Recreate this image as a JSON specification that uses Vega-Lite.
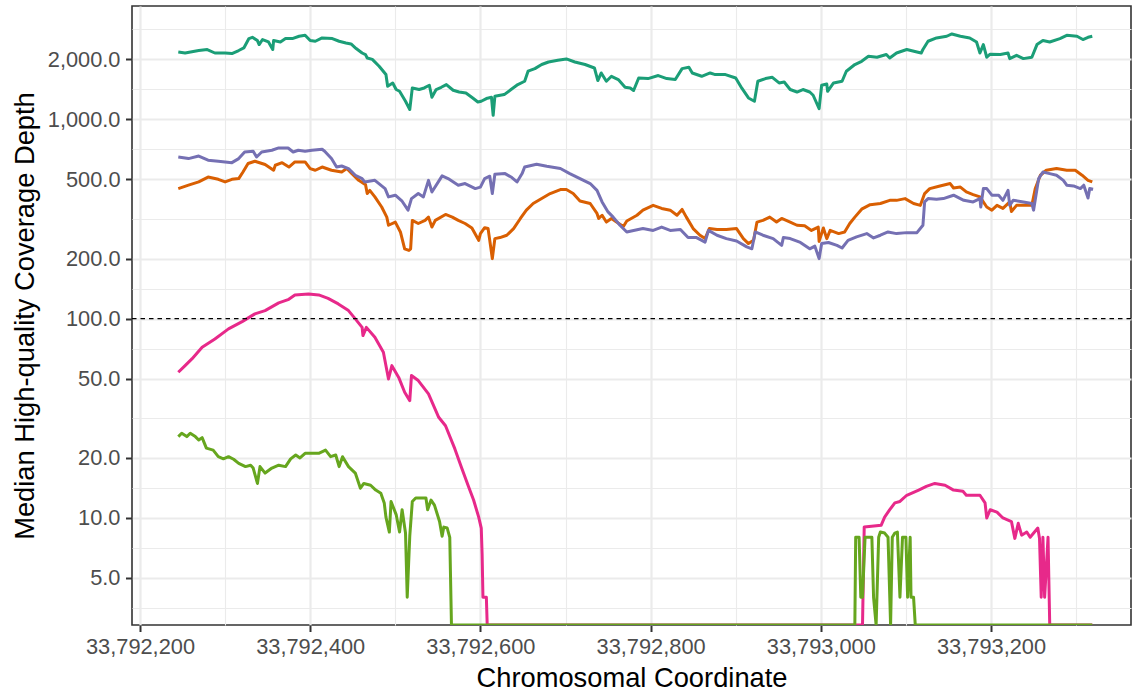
{
"$schema": "https://vega.github.io/schema/vega-lite/v6.json",
"width": 999, "height": 619,
"autosize": {"type": "none"},
"padding": {"left": 132, "top": 6, "right": 1, "bottom": 67},
"background": "white",
"config": {
  "view": {"stroke": "#333333", "strokeWidth": 1.6},
  "font": "Liberation Sans",
  "axis": {"domain": false, "labelFont": "Liberation Sans", "titleFont": "Liberation Sans", "labelColor": "#4d4d4d", "labelFontSize": 21.8, "titleFontSize": 27.3, "titleFontWeight": "normal", "titleColor": "#000000", "tickColor": "#333333", "tickWidth": 2, "tickSize": 6.5, "gridColor": "#ebebeb", "labelOverlap": false, "labelFlush": false}
},
"layer": [
{
"data": {"values": [
{"s":"S1","pos":33792245,"depth":2176},{"s":"S1","pos":33792253,"depth":2150},{"s":"S1","pos":33792269,"depth":2212},{"s":"S1","pos":33792279,"depth":2238},{"s":"S1","pos":33792288,"depth":2150},{"s":"S1","pos":33792300,"depth":2150},{"s":"S1","pos":33792308,"depth":2136},{"s":"S1","pos":33792316,"depth":2212},{"s":"S1","pos":33792322,"depth":2280},{"s":"S1","pos":33792328,"depth":2540},{"s":"S1","pos":33792332,"depth":2578},{"s":"S1","pos":33792338,"depth":2482},{"s":"S1","pos":33792340,"depth":2370},{"s":"S1","pos":33792344,"depth":2512},{"s":"S1","pos":33792351,"depth":2442},{"s":"S1","pos":33792356,"depth":2238},{"s":"S1","pos":33792357,"depth":2482},{"s":"S1","pos":33792365,"depth":2442},{"s":"S1","pos":33792371,"depth":2540},{"s":"S1","pos":33792379,"depth":2540},{"s":"S1","pos":33792387,"depth":2609},{"s":"S1","pos":33792394,"depth":2638},{"s":"S1","pos":33792400,"depth":2482},{"s":"S1","pos":33792406,"depth":2462},{"s":"S1","pos":33792414,"depth":2558},{"s":"S1","pos":33792426,"depth":2540},{"s":"S1","pos":33792434,"depth":2462},{"s":"S1","pos":33792442,"depth":2414},{"s":"S1","pos":33792448,"depth":2386},{"s":"S1","pos":33792454,"depth":2264},{"s":"S1","pos":33792461,"depth":2150},{"s":"S1","pos":33792465,"depth":2112},{"s":"S1","pos":33792467,"depth":2030},{"s":"S1","pos":33792473,"depth":1997},{"s":"S1","pos":33792481,"depth":1845},{"s":"S1","pos":33792489,"depth":1676},{"s":"S1","pos":33792491,"depth":1464},{"s":"S1","pos":33792497,"depth":1521},{"s":"S1","pos":33792501,"depth":1410},{"s":"S1","pos":33792505,"depth":1382},{"s":"S1","pos":33792512,"depth":1231},{"s":"S1","pos":33792517,"depth":1119},{"s":"S1","pos":33792520,"depth":1436},{"s":"S1","pos":33792528,"depth":1410},{"s":"S1","pos":33792534,"depth":1436},{"s":"S1","pos":33792540,"depth":1481},{"s":"S1","pos":33792543,"depth":1289},{"s":"S1","pos":33792548,"depth":1410},{"s":"S1","pos":33792554,"depth":1447},{"s":"S1","pos":33792560,"depth":1493},{"s":"S1","pos":33792568,"depth":1398},{"s":"S1","pos":33792575,"depth":1370},{"s":"S1","pos":33792583,"depth":1355},{"s":"S1","pos":33792591,"depth":1279},{"s":"S1","pos":33792597,"depth":1221},{"s":"S1","pos":33792601,"depth":1231},{"s":"S1","pos":33792607,"depth":1270},{"s":"S1","pos":33792613,"depth":1289},{"s":"S1","pos":33792615,"depth":1047},{"s":"S1","pos":33792617,"depth":1304},{"s":"S1","pos":33792628,"depth":1330},{"s":"S1","pos":33792636,"depth":1410},{"s":"S1","pos":33792644,"depth":1493},{"s":"S1","pos":33792652,"depth":1551},{"s":"S1","pos":33792656,"depth":1742},{"s":"S1","pos":33792664,"depth":1795},{"s":"S1","pos":33792672,"depth":1882},{"s":"S1","pos":33792680,"depth":1938},{"s":"S1","pos":33792691,"depth":1978},{"s":"S1","pos":33792701,"depth":2007},{"s":"S1","pos":33792711,"depth":1938},{"s":"S1","pos":33792723,"depth":1882},{"s":"S1","pos":33792734,"depth":1808},{"s":"S1","pos":33792738,"depth":1564},{"s":"S1","pos":33792742,"depth":1707},{"s":"S1","pos":33792748,"depth":1551},{"s":"S1","pos":33792754,"depth":1643},{"s":"S1","pos":33792762,"depth":1582},{"s":"S1","pos":33792770,"depth":1447},{"s":"S1","pos":33792776,"depth":1436},{"s":"S1","pos":33792780,"depth":1394},{"s":"S1","pos":33792786,"depth":1611},{"s":"S1","pos":33792797,"depth":1600},{"s":"S1","pos":33792809,"depth":1657},{"s":"S1","pos":33792819,"depth":1600},{"s":"S1","pos":33792829,"depth":1582},{"s":"S1","pos":33792837,"depth":1795},{"s":"S1","pos":33792845,"depth":1824},{"s":"S1","pos":33792849,"depth":1707},{"s":"S1","pos":33792860,"depth":1643},{"s":"S1","pos":33792870,"depth":1707},{"s":"S1","pos":33792876,"depth":1676},{"s":"S1","pos":33792888,"depth":1676},{"s":"S1","pos":33792900,"depth":1611},{"s":"S1","pos":33792907,"depth":1436},{"s":"S1","pos":33792915,"depth":1279},{"s":"S1","pos":33792922,"depth":1231},{"s":"S1","pos":33792926,"depth":1551},{"s":"S1","pos":33792935,"depth":1600},{"s":"S1","pos":33792943,"depth":1624},{"s":"S1","pos":33792951,"depth":1521},{"s":"S1","pos":33792957,"depth":1538},{"s":"S1","pos":33792964,"depth":1410},{"s":"S1","pos":33792972,"depth":1370},{"s":"S1","pos":33792979,"depth":1410},{"s":"S1","pos":33792987,"depth":1370},{"s":"S1","pos":33792991,"depth":1320},{"s":"S1","pos":33792998,"depth":1131},{"s":"S1","pos":33793001,"depth":1481},{"s":"S1","pos":33793007,"depth":1503},{"s":"S1","pos":33793008,"depth":1382},{"s":"S1","pos":33793015,"depth":1521},{"s":"S1","pos":33793025,"depth":1551},{"s":"S1","pos":33793030,"depth":1742},{"s":"S1","pos":33793040,"depth":1882},{"s":"S1","pos":33793048,"depth":1954},{"s":"S1","pos":33793056,"depth":2070},{"s":"S1","pos":33793066,"depth":2047},{"s":"S1","pos":33793077,"depth":2112},{"s":"S1","pos":33793081,"depth":2030},{"s":"S1","pos":33793089,"depth":2150},{"s":"S1","pos":33793101,"depth":2238},{"s":"S1","pos":33793113,"depth":2176},{"s":"S1","pos":33793118,"depth":2150},{"s":"S1","pos":33793120,"depth":2238},{"s":"S1","pos":33793126,"depth":2462},{"s":"S1","pos":33793136,"depth":2558},{"s":"S1","pos":33793148,"depth":2609},{"s":"S1","pos":33793154,"depth":2679},{"s":"S1","pos":33793164,"depth":2609},{"s":"S1","pos":33793175,"depth":2558},{"s":"S1","pos":33793183,"depth":2442},{"s":"S1","pos":33793187,"depth":2150},{"s":"S1","pos":33793191,"depth":2370},{"s":"S1","pos":33793195,"depth":2047},{"s":"S1","pos":33793199,"depth":2122},{"s":"S1","pos":33793211,"depth":2112},{"s":"S1","pos":33793220,"depth":2150},{"s":"S1","pos":33793222,"depth":2015},{"s":"S1","pos":33793230,"depth":2094},{"s":"S1","pos":33793238,"depth":2015},{"s":"S1","pos":33793248,"depth":2047},{"s":"S1","pos":33793254,"depth":2370},{"s":"S1","pos":33793261,"depth":2482},{"s":"S1","pos":33793269,"depth":2442},{"s":"S1","pos":33793281,"depth":2540},{"s":"S1","pos":33793289,"depth":2638},{"s":"S1","pos":33793301,"depth":2609},{"s":"S1","pos":33793308,"depth":2512},{"s":"S1","pos":33793314,"depth":2578},{"s":"S1","pos":33793319,"depth":2609},
{"s":"S2","pos":33792245,"depth":449},{"s":"S2","pos":33792257,"depth":467},{"s":"S2","pos":33792269,"depth":485},{"s":"S2","pos":33792280,"depth":513},{"s":"S2","pos":33792292,"depth":500},{"s":"S2","pos":33792300,"depth":485},{"s":"S2","pos":33792308,"depth":500},{"s":"S2","pos":33792316,"depth":504},{"s":"S2","pos":33792321,"depth":544},{"s":"S2","pos":33792327,"depth":600},{"s":"S2","pos":33792335,"depth":616},{"s":"S2","pos":33792347,"depth":593},{"s":"S2","pos":33792357,"depth":555},{"s":"S2","pos":33792359,"depth":588},{"s":"S2","pos":33792367,"depth":606},{"s":"S2","pos":33792375,"depth":576},{"s":"S2","pos":33792382,"depth":611},{"s":"S2","pos":33792394,"depth":611},{"s":"S2","pos":33792400,"depth":566},{"s":"S2","pos":33792406,"depth":555},{"s":"S2","pos":33792414,"depth":576},{"s":"S2","pos":33792425,"depth":555},{"s":"S2","pos":33792437,"depth":544},{"s":"S2","pos":33792443,"depth":566},{"s":"S2","pos":33792449,"depth":534},{"s":"S2","pos":33792457,"depth":494},{"s":"S2","pos":33792465,"depth":470},{"s":"S2","pos":33792467,"depth":424},{"s":"S2","pos":33792470,"depth":440},{"s":"S2","pos":33792476,"depth":408},{"s":"S2","pos":33792484,"depth":363},{"s":"S2","pos":33792490,"depth":323},{"s":"S2","pos":33792492,"depth":294},{"s":"S2","pos":33792500,"depth":305},{"s":"S2","pos":33792506,"depth":272},{"s":"S2","pos":33792511,"depth":224},{"s":"S2","pos":33792516,"depth":220},{"s":"S2","pos":33792518,"depth":224},{"s":"S2","pos":33792520,"depth":311},{"s":"S2","pos":33792527,"depth":300},{"s":"S2","pos":33792535,"depth":311},{"s":"S2","pos":33792539,"depth":323},{"s":"S2","pos":33792543,"depth":288},{"s":"S2","pos":33792547,"depth":311},{"s":"S2","pos":33792559,"depth":333},{"s":"S2","pos":33792567,"depth":323},{"s":"S2","pos":33792574,"depth":311},{"s":"S2","pos":33792582,"depth":300},{"s":"S2","pos":33792590,"depth":285},{"s":"S2","pos":33792598,"depth":247},{"s":"S2","pos":33792600,"depth":267},{"s":"S2","pos":33792605,"depth":286},{"s":"S2","pos":33792609,"depth":283},{"s":"S2","pos":33792611,"depth":247},{"s":"S2","pos":33792614,"depth":200},{"s":"S2","pos":33792617,"depth":252},{"s":"S2","pos":33792623,"depth":255},{"s":"S2","pos":33792631,"depth":262},{"s":"S2","pos":33792639,"depth":283},{"s":"S2","pos":33792647,"depth":318},{"s":"S2","pos":33792654,"depth":350},{"s":"S2","pos":33792662,"depth":378},{"s":"S2","pos":33792670,"depth":396},{"s":"S2","pos":33792682,"depth":424},{"s":"S2","pos":33792694,"depth":444},{"s":"S2","pos":33792701,"depth":444},{"s":"S2","pos":33792709,"depth":424},{"s":"S2","pos":33792717,"depth":389},{"s":"S2","pos":33792729,"depth":378},{"s":"S2","pos":33792737,"depth":337},{"s":"S2","pos":33792739,"depth":318},{"s":"S2","pos":33792743,"depth":330},{"s":"S2","pos":33792748,"depth":305},{"s":"S2","pos":33792754,"depth":318},{"s":"S2","pos":33792760,"depth":305},{"s":"S2","pos":33792768,"depth":290},{"s":"S2","pos":33792772,"depth":309},{"s":"S2","pos":33792784,"depth":330},{"s":"S2","pos":33792791,"depth":350},{"s":"S2","pos":33792803,"depth":370},{"s":"S2","pos":33792813,"depth":357},{"s":"S2","pos":33792823,"depth":350},{"s":"S2","pos":33792831,"depth":330},{"s":"S2","pos":33792837,"depth":353},{"s":"S2","pos":33792842,"depth":323},{"s":"S2","pos":33792850,"depth":283},{"s":"S2","pos":33792858,"depth":262},{"s":"S2","pos":33792864,"depth":252},{"s":"S2","pos":33792869,"depth":283},{"s":"S2","pos":33792878,"depth":280},{"s":"S2","pos":33792889,"depth":280},{"s":"S2","pos":33792901,"depth":283},{"s":"S2","pos":33792909,"depth":252},{"s":"S2","pos":33792915,"depth":238},{"s":"S2","pos":33792921,"depth":247},{"s":"S2","pos":33792925,"depth":305},{"s":"S2","pos":33792932,"depth":311},{"s":"S2","pos":33792940,"depth":323},{"s":"S2","pos":33792948,"depth":305},{"s":"S2","pos":33792954,"depth":318},{"s":"S2","pos":33792964,"depth":305},{"s":"S2","pos":33792972,"depth":294},{"s":"S2","pos":33792981,"depth":292},{"s":"S2","pos":33792989,"depth":277},{"s":"S2","pos":33792997,"depth":288},{"s":"S2","pos":33792998,"depth":244},{"s":"S2","pos":33793003,"depth":285},{"s":"S2","pos":33793007,"depth":252},{"s":"S2","pos":33793011,"depth":277},{"s":"S2","pos":33793021,"depth":267},{"s":"S2","pos":33793028,"depth":272},{"s":"S2","pos":33793034,"depth":300},{"s":"S2","pos":33793040,"depth":323},{"s":"S2","pos":33793048,"depth":354},{"s":"S2","pos":33793058,"depth":373},{"s":"S2","pos":33793070,"depth":378},{"s":"S2","pos":33793081,"depth":392},{"s":"S2","pos":33793089,"depth":392},{"s":"S2","pos":33793099,"depth":400},{"s":"S2","pos":33793109,"depth":378},{"s":"S2","pos":33793117,"depth":370},{"s":"S2","pos":33793122,"depth":424},{"s":"S2","pos":33793128,"depth":449},{"s":"S2","pos":33793140,"depth":463},{"s":"S2","pos":33793152,"depth":476},{"s":"S2","pos":33793156,"depth":452},{"s":"S2","pos":33793164,"depth":457},{"s":"S2","pos":33793171,"depth":432},{"s":"S2","pos":33793179,"depth":419},{"s":"S2","pos":33793187,"depth":408},{"s":"S2","pos":33793195,"depth":363},{"s":"S2","pos":33793201,"depth":350},{"s":"S2","pos":33793207,"depth":370},{"s":"S2","pos":33793214,"depth":357},{"s":"S2","pos":33793222,"depth":385},{"s":"S2","pos":33793224,"depth":345},{"s":"S2","pos":33793230,"depth":370},{"s":"S2","pos":33793238,"depth":370},{"s":"S2","pos":33793248,"depth":370},{"s":"S2","pos":33793252,"depth":449},{"s":"S2","pos":33793258,"depth":524},{"s":"S2","pos":33793265,"depth":555},{"s":"S2","pos":33793277,"depth":566},{"s":"S2","pos":33793289,"depth":555},{"s":"S2","pos":33793299,"depth":555},{"s":"S2","pos":33793307,"depth":524},{"s":"S2","pos":33793314,"depth":494},{"s":"S2","pos":33793319,"depth":485},
{"s":"S3","pos":33792245,"depth":647},{"s":"S3","pos":33792257,"depth":635},{"s":"S3","pos":33792269,"depth":654},{"s":"S3","pos":33792280,"depth":623},{"s":"S3","pos":33792292,"depth":616},{"s":"S3","pos":33792308,"depth":606},{"s":"S3","pos":33792316,"depth":635},{"s":"S3","pos":33792323,"depth":685},{"s":"S3","pos":33792333,"depth":691},{"s":"S3","pos":33792337,"depth":647},{"s":"S3","pos":33792343,"depth":685},{"s":"S3","pos":33792355,"depth":699},{"s":"S3","pos":33792363,"depth":718},{"s":"S3","pos":33792374,"depth":718},{"s":"S3","pos":33792380,"depth":685},{"s":"S3","pos":33792386,"depth":699},{"s":"S3","pos":33792394,"depth":691},{"s":"S3","pos":33792402,"depth":699},{"s":"S3","pos":33792414,"depth":707},{"s":"S3","pos":33792417,"depth":691},{"s":"S3","pos":33792425,"depth":635},{"s":"S3","pos":33792431,"depth":576},{"s":"S3","pos":33792437,"depth":583},{"s":"S3","pos":33792445,"depth":566},{"s":"S3","pos":33792453,"depth":524},{"s":"S3","pos":33792461,"depth":504},{"s":"S3","pos":33792464,"depth":485},{"s":"S3","pos":33792476,"depth":494},{"s":"S3","pos":33792488,"depth":449},{"s":"S3","pos":33792492,"depth":408},{"s":"S3","pos":33792500,"depth":416},{"s":"S3","pos":33792508,"depth":388},{"s":"S3","pos":33792515,"depth":350},{"s":"S3","pos":33792519,"depth":400},{"s":"S3","pos":33792527,"depth":424},{"s":"S3","pos":33792533,"depth":408},{"s":"S3","pos":33792539,"depth":494},{"s":"S3","pos":33792543,"depth":432},{"s":"S3","pos":33792555,"depth":520},{"s":"S3","pos":33792562,"depth":504},{"s":"S3","pos":33792574,"depth":467},{"s":"S3","pos":33792582,"depth":476},{"s":"S3","pos":33792594,"depth":449},{"s":"S3","pos":33792600,"depth":457},{"s":"S3","pos":33792605,"depth":504},{"s":"S3","pos":33792611,"depth":518},{"s":"S3","pos":33792614,"depth":424},{"s":"S3","pos":33792617,"depth":530},{"s":"S3","pos":33792629,"depth":534},{"s":"S3","pos":33792637,"depth":510},{"s":"S3","pos":33792643,"depth":485},{"s":"S3","pos":33792649,"depth":534},{"s":"S3","pos":33792652,"depth":576},{"s":"S3","pos":33792666,"depth":595},{"s":"S3","pos":33792678,"depth":581},{"s":"S3","pos":33792694,"depth":566},{"s":"S3","pos":33792705,"depth":534},{"s":"S3","pos":33792717,"depth":504},{"s":"S3","pos":33792729,"depth":476},{"s":"S3","pos":33792737,"depth":440},{"s":"S3","pos":33792743,"depth":385},{"s":"S3","pos":33792750,"depth":343},{"s":"S3","pos":33792756,"depth":323},{"s":"S3","pos":33792764,"depth":294},{"s":"S3","pos":33792772,"depth":272},{"s":"S3","pos":33792780,"depth":277},{"s":"S3","pos":33792791,"depth":283},{"s":"S3","pos":33792803,"depth":277},{"s":"S3","pos":33792813,"depth":288},{"s":"S3","pos":33792823,"depth":277},{"s":"S3","pos":33792835,"depth":280},{"s":"S3","pos":33792844,"depth":255},{"s":"S3","pos":33792854,"depth":255},{"s":"S3","pos":33792864,"depth":242},{"s":"S3","pos":33792868,"depth":277},{"s":"S3","pos":33792878,"depth":262},{"s":"S3","pos":33792889,"depth":252},{"s":"S3","pos":33792901,"depth":245},{"s":"S3","pos":33792913,"depth":229},{"s":"S3","pos":33792919,"depth":224},{"s":"S3","pos":33792923,"depth":272},{"s":"S3","pos":33792932,"depth":262},{"s":"S3","pos":33792944,"depth":252},{"s":"S3","pos":33792954,"depth":233},{"s":"S3","pos":33792956,"depth":255},{"s":"S3","pos":33792964,"depth":252},{"s":"S3","pos":33792976,"depth":241},{"s":"S3","pos":33792987,"depth":224},{"s":"S3","pos":33792993,"depth":231},{"s":"S3","pos":33792998,"depth":200},{"s":"S3","pos":33793001,"depth":238},{"s":"S3","pos":33793009,"depth":241},{"s":"S3","pos":33793019,"depth":233},{"s":"S3","pos":33793025,"depth":226},{"s":"S3","pos":33793032,"depth":247},{"s":"S3","pos":33793042,"depth":257},{"s":"S3","pos":33793054,"depth":267},{"s":"S3","pos":33793062,"depth":254},{"s":"S3","pos":33793070,"depth":262},{"s":"S3","pos":33793079,"depth":272},{"s":"S3","pos":33793089,"depth":267},{"s":"S3","pos":33793101,"depth":270},{"s":"S3","pos":33793113,"depth":270},{"s":"S3","pos":33793120,"depth":294},{"s":"S3","pos":33793122,"depth":385},{"s":"S3","pos":33793126,"depth":400},{"s":"S3","pos":33793136,"depth":397},{"s":"S3","pos":33793144,"depth":400},{"s":"S3","pos":33793156,"depth":416},{"s":"S3","pos":33793168,"depth":392},{"s":"S3","pos":33793179,"depth":385},{"s":"S3","pos":33793187,"depth":400},{"s":"S3","pos":33793188,"depth":363},{"s":"S3","pos":33793191,"depth":449},{"s":"S3","pos":33793195,"depth":449},{"s":"S3","pos":33793201,"depth":416},{"s":"S3","pos":33793209,"depth":416},{"s":"S3","pos":33793214,"depth":392},{"s":"S3","pos":33793220,"depth":440},{"s":"S3","pos":33793222,"depth":370},{"s":"S3","pos":33793226,"depth":392},{"s":"S3","pos":33793238,"depth":385},{"s":"S3","pos":33793248,"depth":378},{"s":"S3","pos":33793250,"depth":350},{"s":"S3","pos":33793256,"depth":504},{"s":"S3","pos":33793261,"depth":544},{"s":"S3","pos":33793269,"depth":534},{"s":"S3","pos":33793277,"depth":524},{"s":"S3","pos":33793285,"depth":494},{"s":"S3","pos":33793289,"depth":467},{"s":"S3","pos":33793297,"depth":463},{"s":"S3","pos":33793305,"depth":449},{"s":"S3","pos":33793309,"depth":467},{"s":"S3","pos":33793314,"depth":403},{"s":"S3","pos":33793316,"depth":449},{"s":"S3","pos":33793320,"depth":446},
{"s":"S4","pos":33792245,"depth":53.8},{"s":"S4","pos":33792253,"depth":58.1},{"s":"S4","pos":33792261,"depth":62.8},{"s":"S4","pos":33792273,"depth":71.8},{"s":"S4","pos":33792288,"depth":79.1},{"s":"S4","pos":33792304,"depth":88.8},{"s":"S4","pos":33792320,"depth":96.6},{"s":"S4","pos":33792335,"depth":105.6},{"s":"S4","pos":33792347,"depth":109.7},{"s":"S4","pos":33792363,"depth":119.9},{"s":"S4","pos":33792374,"depth":124.5},{"s":"S4","pos":33792382,"depth":131.5},{"s":"S4","pos":33792398,"depth":133},{"s":"S4","pos":33792410,"depth":131.5},{"s":"S4","pos":33792421,"depth":126.4},{"s":"S4","pos":33792433,"depth":118.5},{"s":"S4","pos":33792445,"depth":109.7},{"s":"S4","pos":33792453,"depth":99.7},{"s":"S4","pos":33792461,"depth":90.4},{"s":"S4","pos":33792462,"depth":82.2},{"s":"S4","pos":33792466,"depth":90.4},{"s":"S4","pos":33792476,"depth":80.6},{"s":"S4","pos":33792486,"depth":67.8},{"s":"S4","pos":33792492,"depth":49.8},{"s":"S4","pos":33792496,"depth":58.1},{"s":"S4","pos":33792504,"depth":50.7},{"s":"S4","pos":33792511,"depth":42.7},{"s":"S4","pos":33792517,"depth":38.8},{"s":"S4","pos":33792519,"depth":51.8},{"s":"S4","pos":33792527,"depth":48.9},{"s":"S4","pos":33792539,"depth":41.9},{"s":"S4","pos":33792551,"depth":32},{"s":"S4","pos":33792559,"depth":29},{"s":"S4","pos":33792570,"depth":22.2},{"s":"S4","pos":33792578,"depth":17.8},{"s":"S4","pos":33792586,"depth":14.4},{"s":"S4","pos":33792592,"depth":12.3},{"s":"S4","pos":33792598,"depth":10.1},{"s":"S4","pos":33792601,"depth":8.9},{"s":"S4","pos":33792602,"depth":6.6},{"s":"S4","pos":33792603,"depth":4},{"s":"S4","pos":33792607,"depth":4},{"s":"S4","pos":33792608,"depth":0},{"s":"S4","pos":33793049,"depth":0},{"s":"S4","pos":33793051,"depth":9},{"s":"S4","pos":33793071,"depth":9.2},{"s":"S4","pos":33793075,"depth":10.1},{"s":"S4","pos":33793081,"depth":11},{"s":"S4","pos":33793087,"depth":11.9},{"s":"S4","pos":33793093,"depth":12.1},{"s":"S4","pos":33793101,"depth":13},{"s":"S4","pos":33793115,"depth":13.8},{"s":"S4","pos":33793124,"depth":14.4},{"s":"S4","pos":33793134,"depth":14.9},{"s":"S4","pos":33793146,"depth":14.6},{"s":"S4","pos":33793156,"depth":13.8},{"s":"S4","pos":33793167,"depth":13.6},{"s":"S4","pos":33793171,"depth":13},{"s":"S4","pos":33793187,"depth":13},{"s":"S4","pos":33793193,"depth":11.9},{"s":"S4","pos":33793195,"depth":10},{"s":"S4","pos":33793199,"depth":11},{"s":"S4","pos":33793207,"depth":10.7},{"s":"S4","pos":33793214,"depth":10},{"s":"S4","pos":33793224,"depth":9.6},{"s":"S4","pos":33793228,"depth":7.9},{"s":"S4","pos":33793232,"depth":9.4},{"s":"S4","pos":33793236,"depth":8.2},{"s":"S4","pos":33793242,"depth":8.5},{"s":"S4","pos":33793246,"depth":8},{"s":"S4","pos":33793255,"depth":8.9},{"s":"S4","pos":33793257,"depth":7.9},{"s":"S4","pos":33793259,"depth":4},{"s":"S4","pos":33793261,"depth":8},{"s":"S4","pos":33793263,"depth":4},{"s":"S4","pos":33793267,"depth":8},{"s":"S4","pos":33793269,"depth":0},{"s":"S4","pos":33793319,"depth":0},
{"s":"S5","pos":33792245,"depth":25.6},{"s":"S5","pos":33792249,"depth":26.6},{"s":"S5","pos":33792255,"depth":25.6},{"s":"S5","pos":33792259,"depth":26.6},{"s":"S5","pos":33792265,"depth":25.6},{"s":"S5","pos":33792269,"depth":24.6},{"s":"S5","pos":33792273,"depth":25.3},{"s":"S5","pos":33792278,"depth":22.4},{"s":"S5","pos":33792286,"depth":21.9},{"s":"S5","pos":33792292,"depth":20.3},{"s":"S5","pos":33792298,"depth":19.8},{"s":"S5","pos":33792304,"depth":20.3},{"s":"S5","pos":33792310,"depth":19.7},{"s":"S5","pos":33792316,"depth":18.8},{"s":"S5","pos":33792324,"depth":18.1},{"s":"S5","pos":33792330,"depth":18.4},{"s":"S5","pos":33792333,"depth":17.8},{"s":"S5","pos":33792338,"depth":14.9},{"s":"S5","pos":33792341,"depth":18.1},{"s":"S5","pos":33792347,"depth":16.8},{"s":"S5","pos":33792355,"depth":17.8},{"s":"S5","pos":33792363,"depth":18.4},{"s":"S5","pos":33792371,"depth":18.1},{"s":"S5","pos":33792377,"depth":19.8},{"s":"S5","pos":33792383,"depth":20.7},{"s":"S5","pos":33792388,"depth":20},{"s":"S5","pos":33792394,"depth":21.1},{"s":"S5","pos":33792402,"depth":21.1},{"s":"S5","pos":33792410,"depth":21.1},{"s":"S5","pos":33792418,"depth":21.9},{"s":"S5","pos":33792424,"depth":20.3},{"s":"S5","pos":33792430,"depth":20.7},{"s":"S5","pos":33792434,"depth":18.1},{"s":"S5","pos":33792438,"depth":20.3},{"s":"S5","pos":33792445,"depth":18.1},{"s":"S5","pos":33792453,"depth":16.8},{"s":"S5","pos":33792459,"depth":14.1},{"s":"S5","pos":33792463,"depth":14.9},{"s":"S5","pos":33792471,"depth":14.6},{"s":"S5","pos":33792477,"depth":13.8},{"s":"S5","pos":33792483,"depth":13.3},{"s":"S5","pos":33792487,"depth":11.9},{"s":"S5","pos":33792489,"depth":10.1},{"s":"S5","pos":33792493,"depth":8.5},{"s":"S5","pos":33792495,"depth":12.1},{"s":"S5","pos":33792501,"depth":10.4},{"s":"S5","pos":33792505,"depth":8.5},{"s":"S5","pos":33792508,"depth":11},{"s":"S5","pos":33792512,"depth":8.4},{"s":"S5","pos":33792514,"depth":4},{"s":"S5","pos":33792517,"depth":8.1},{"s":"S5","pos":33792520,"depth":12.1},{"s":"S5","pos":33792524,"depth":12.6},{"s":"S5","pos":33792536,"depth":12.6},{"s":"S5","pos":33792538,"depth":11},{"s":"S5","pos":33792542,"depth":12.3},{"s":"S5","pos":33792546,"depth":11.6},{"s":"S5","pos":33792552,"depth":9.6},{"s":"S5","pos":33792555,"depth":8.1},{"s":"S5","pos":33792557,"depth":9},{"s":"S5","pos":33792561,"depth":8.9},{"s":"S5","pos":33792564,"depth":8},{"s":"S5","pos":33792566,"depth":0},{"s":"S5","pos":33793040,"depth":0},{"s":"S5","pos":33793041,"depth":8},{"s":"S5","pos":33793045,"depth":8},{"s":"S5","pos":33793047,"depth":4},{"s":"S5","pos":33793049,"depth":4},{"s":"S5","pos":33793052,"depth":8},{"s":"S5","pos":33793060,"depth":8},{"s":"S5","pos":33793062,"depth":4},{"s":"S5","pos":33793065,"depth":0},{"s":"S5","pos":33793068,"depth":8},{"s":"S5","pos":33793070,"depth":8.5},{"s":"S5","pos":33793075,"depth":8.4},{"s":"S5","pos":33793079,"depth":8},{"s":"S5","pos":33793082,"depth":0},{"s":"S5","pos":33793084,"depth":8},{"s":"S5","pos":33793087,"depth":8.4},{"s":"S5","pos":33793090,"depth":8.5},{"s":"S5","pos":33793093,"depth":4},{"s":"S5","pos":33793096,"depth":8},{"s":"S5","pos":33793100,"depth":8},{"s":"S5","pos":33793102,"depth":4},{"s":"S5","pos":33793105,"depth":8},{"s":"S5","pos":33793106,"depth":4},{"s":"S5","pos":33793109,"depth":4},{"s":"S5","pos":33793111,"depth":0},{"s":"S5","pos":33793319,"depth":0}
]},
"mark": {"type": "line", "strokeWidth": 3, "clip": true, "strokeJoin": "round", "strokeCap": "butt"},
"encoding": {
  "x": {"field": "pos", "type": "quantitative",
    "scale": {"domain": [33792190.6, 33793364.5], "nice": false, "zero": false},
    "axis": {"title": "Chromosomal Coordinate", "titleBaseline": "alphabetic", "titleY": 61, "labelPadding": 5,
      "values": [33792200,33792300,33792400,33792500,33792600,33792700,33792800,33792900,33793000,33793100,33793200,33793300],
      "labelExpr": "datum.value % 200 == 0 ? format(datum.value, ',') : ''",
      "gridWidth": {"condition": {"test": "datum.value % 200 == 0", "value": 2.2}, "value": 1.1},
      "tickOpacity": {"condition": {"test": "datum.value % 200 == 0", "value": 1}, "value": 0}}},
  "y": {"field": "depth", "type": "quantitative",
    "scale": {"type": "log", "domain": [2.905, 3700], "nice": false, "clamp": true},
    "axis": {"title": "Median High-quality Coverage Depth", "titleBaseline": "alphabetic", "titleX": -99, "labelPadding": 5.5,
      "values": [3.5355,5,7.0711,10,14.142,20,31.623,50,70.711,100,141.42,200,316.23,500,707.11,1000,1414.2,2000,2828.4],
      "labelExpr": "indexof([5,10,20,50,100,200,500,1000,2000], datum.value) >= 0 ? format(datum.value, ',.1f') : ''",
      "gridWidth": {"condition": {"test": "indexof([5,10,20,50,100,200,500,1000,2000], datum.value) >= 0", "value": 2.2}, "value": 1.1},
      "tickOpacity": {"condition": {"test": "indexof([5,10,20,50,100,200,500,1000,2000], datum.value) >= 0", "value": 1}, "value": 0}}},
  "color": {"field": "s", "type": "nominal", "scale": {"domain": ["S1","S2","S3","S4","S5"], "range": ["#1b9e77","#d95f02","#7570b3","#e7298a","#66a61e"]}, "legend": null}
}
},
{
"data": {"values": [{}]},
"mark": {"type": "rule", "color": "#000000", "strokeWidth": 1.2, "strokeDash": [4.5, 4]},
"encoding": {"y": {"datum": 100}}
}
]
}
